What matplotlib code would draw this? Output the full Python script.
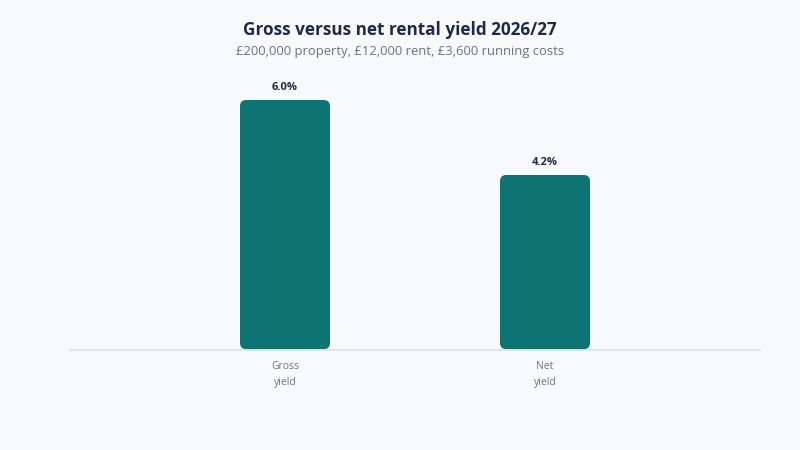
import matplotlib
matplotlib.use("Agg")
import matplotlib.pyplot as plt
from matplotlib.patches import FancyBboxPatch

categories = ["Gross\nyield", "Net\nyield"]
yields = [6.0, 4.2]
value_labels = ["6.0%", "4.2%"]

BG = "#f8f9fb"
BAR = "#0e7373"
NAVY = "#1e2a47"
GREY = "#6b7280"

plt.rcParams["font.family"] = ["Open Sans", "DejaVu Sans"]

fig = plt.figure(figsize=(8, 4.5), dpi=100, facecolor=BG)
# axes spans x 70..760 px, y 70..350 px
ax = fig.add_axes([70 / 800, 1 - 350 / 450, 690 / 800, 280 / 450])
ax.set_facecolor(BG)

ymax = 6.0 * 280 / 250
ax.set_ylim(0, ymax)
ax.set_xlim(-215 / 260, 1 + 215 / 260)

width = 90 / 260
px_x = 260.0
px_y = 250 / 6.0
for i, v in enumerate(yields):
    patch = FancyBboxPatch((i - width / 2, 0.02), width, v - 0.02,
                           boxstyle="round,pad=0,rounding_size=0.024",
                           mutation_aspect=px_x / px_y,
                           fc=BAR, ec="none")
    ax.add_patch(patch)
    ax.text(i, v + 0.17, value_labels[i], ha="center", va="bottom",
            fontsize=8, fontweight="bold", color=NAVY)

ax.set_xticks(range(len(categories)))
ax.set_xticklabels(categories, fontsize=7.5, color=GREY, linespacing=1.6)
ax.tick_params(axis="x", length=0, pad=8)
ax.set_yticks([])
for s in ["top", "right", "left"]:
    ax.spines[s].set_visible(False)
ax.spines["bottom"].set_color("#dcdfe3")
ax.spines["bottom"].set_linewidth(1.2)

fig.text(0.5, 1 - 30 / 450, "Gross versus net rental yield 2026/27",
         ha="center", va="center", fontsize=12.3, fontweight="bold", color=NAVY)
fig.text(0.5, 1 - 51 / 450, "£200,000 property, £12,000 rent, £3,600 running costs",
         ha="center", va="center", fontsize=9.4, color=GREY)

fig.savefig("out.png", dpi=100, facecolor=BG)
